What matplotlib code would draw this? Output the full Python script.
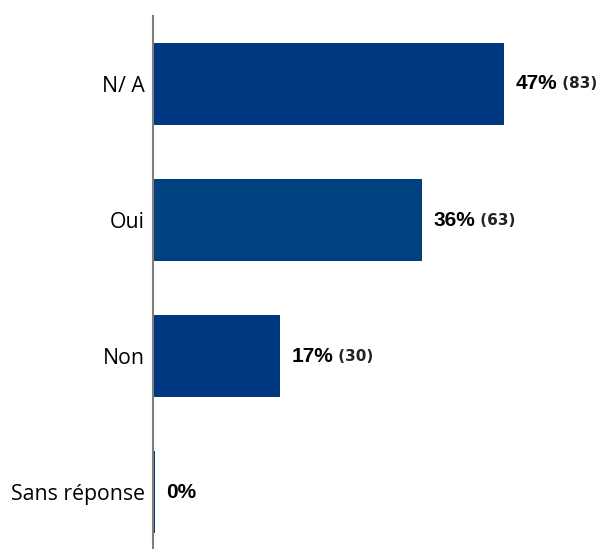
import matplotlib.pyplot as plt
import numpy as np

categories = ["N/ A", "Oui", "Non", "Sans réponse"]
percents = [47, 36, 17, 0.3]
pct_labels = ["47%", "36%", "17%", "0%"]
counts = ["(83)", "(63)", "(30)", ""]
colors = ["#003781", "#00427f", "#003781", "#003781"]

fig = plt.figure(figsize=(6, 5.5), dpi=100)
ax = fig.add_axes([0.255, 0.0036, 0.745, 0.9676])

y = np.arange(len(categories))
ax.barh(y, percents, height=0.6, color=colors)
ax.set_xlim(0, 59.8)
ax.set_ylim(3.41, -0.5)

ax.set_yticks(y)
ax.set_yticklabels(categories, fontfamily="Open Sans", fontsize=15.3)
ax.tick_params(axis="y", length=0, pad=6)
ax.set_xticks([])

for s in ["top", "right", "bottom"]:
    ax.spines[s].set_visible(False)
ax.spines["left"].set_color("#7f7f7f")
ax.spines["left"].set_linewidth(1.5)

for yi, p, lab, c in zip(y, percents, pct_labels, counts):
    t = ax.annotate(lab, (p, yi), xytext=(8, 0), textcoords="offset points",
                    va="center", ha="left", fontsize=15, fontweight="bold",
                    fontfamily="Liberation Sans")
    if c:
        ax.annotate(" " + c, (1, 0.5), xycoords=t, va="center", ha="left",
                    fontsize=11, fontweight="bold", fontfamily="DejaVu Sans",
                    color="#222222")

fig.savefig("out.png", dpi=100)
